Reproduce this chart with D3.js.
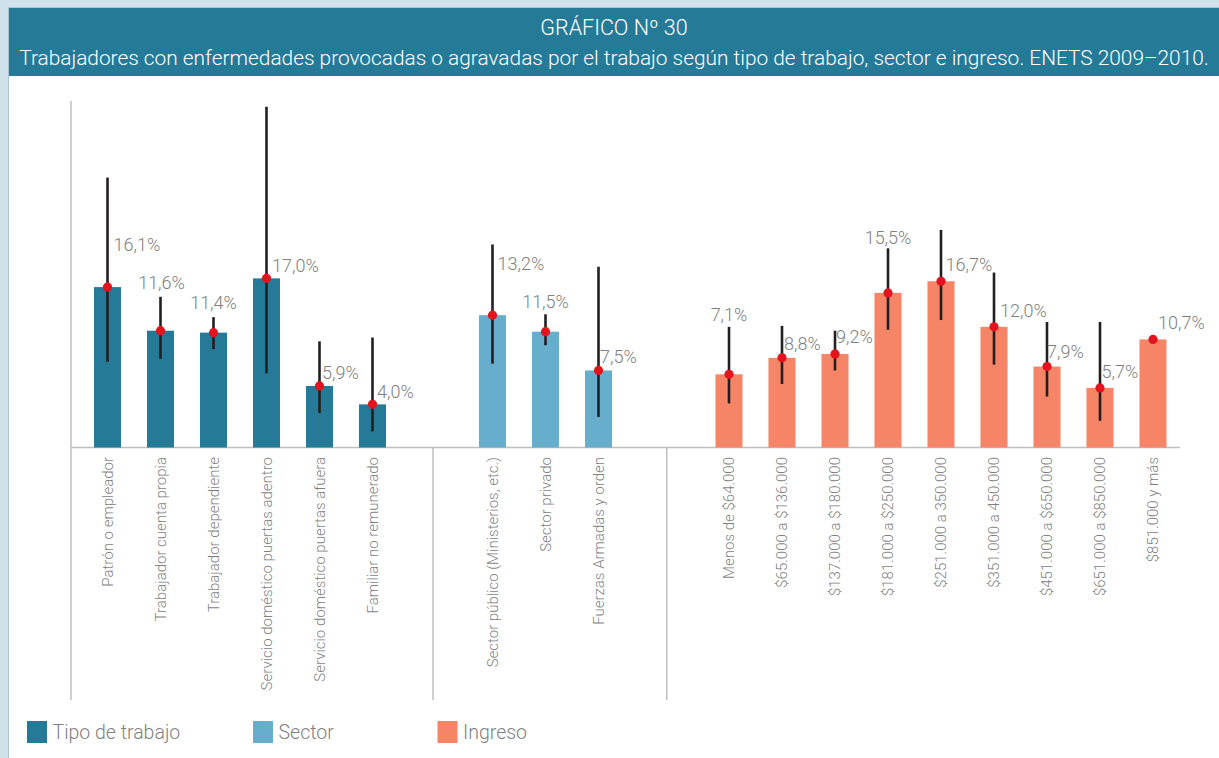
<!DOCTYPE html>
<html>
<head>
<meta charset="utf-8">
<script src="https://cdn.jsdelivr.net/npm/d3@7"></script>
<style>
  html, body { margin: 0; padding: 0; background: #d0e1eb; }
  svg { display: block; }
  text { font-family: Roboto, "Open Sans", "DejaVu Sans", sans-serif; }
</style>
</head>
<body>
<svg id="chart" width="1219" height="758"></svg>
<script>
// ---- Data -------------------------------------------------------------
const titleLine1 = "GRÁFICO Nº 30";
const titleLine2 = "Trabajadores con enfermedades provocadas o agravadas por el trabajo según tipo de trabajo, sector e ingreso. ENETS 2009–2010.";

const groupNames = ["Tipo de trabajo", "Sector", "Ingreso"];

const tipoCategories = [
  "Patrón o empleador",
  "Trabajador cuenta propia",
  "Trabajador dependiente",
  "Servicio doméstico puertas adentro",
  "Servicio doméstico puertas afuera",
  "Familiar no remunerado"
];
const tipoValues = [16.1, 11.6, 11.4, 17.0, 5.9, 4.0];
const tipoUpper  = [27.4, 15.1, 13.0, 34.7, 10.5, 10.9];
const tipoLower  = [8.4, 8.7, 9.7, 7.2, 3.1, 1.2];

const sectorCategories = [
  "Sector público (Ministerios, etc.)",
  "Sector privado",
  "Fuerzas Armadas y orden"
];
const sectorValues = [13.2, 11.5, 7.5];
const sectorUpper  = [20.5, 13.3, 18.2];
const sectorLower  = [8.2, 10.1, 2.7];

const ingresoCategories = [
  "Menos de $64.000",
  "$65.000 a $136.000",
  "$137.000 a $180.000",
  "$181.000 a $250.000",
  "$251.000 a 350.000",
  "$351.000 a 450.000",
  "$451.000 a $650.000",
  "$651.000 a $850.000",
  "$851.000 y más"
];
const ingresoValues = [7.1, 8.8, 9.2, 15.5, 16.7, 12.0, 7.9, 5.7, 10.7];
const ingresoUpper  = [12.0, 12.1, 11.6, 20.1, 22.0, 17.6, 12.5, 12.5, null];
const ingresoLower  = [4.1, 6.1, 7.5, 11.7, 12.7, 8.1, 4.8, 2.3, null];

// ---- Layout -----------------------------------------------------------
const W = 1219, H = 758;
const colors = ["#247a97", "#67aecd", "#f58566"];
const textGray = "#7f7f7f";
const axisGray = "#bfbfbf";

const yAxisX = 71, baseY = 447.5, topY = 101, bottomY = 700, axisEndX = 1180;

// label placement per bar: [anchor, dx, dy] relative to the point
const tipoLabelPos = [["start", 6, -36.5], ["middle", 1, -41.5], ["middle", 0, -24], ["start", 5.5, -6], ["start", 2.5, -7], ["start", 4.5, -6]];
const sectorLabelPos = [["start", 5, -45], ["middle", 0, -24], ["start", 1.5, -7]];
const ingresoLabelPos = [["middle", 0, -53], ["start", 2, -8], ["start", 1, -10.5], ["middle", 0, -49], ["start", 4.5, -10], ["start", 6, -10], ["start", 0, -9], ["start", 1.5, -10], ["start", 5, -10]];

const groups = [
  { name: groupNames[0], cats: tipoCategories, vals: tipoValues, hi: tipoUpper, lo: tipoLower, lab: tipoLabelPos, range: [81, 399], color: colors[0] },
  { name: groupNames[1], cats: sectorCategories, vals: sectorValues, hi: sectorUpper, lo: sectorLower, lab: sectorLabelPos, range: [466, 625], color: colors[1] },
  { name: groupNames[2], cats: ingresoCategories, vals: ingresoValues, hi: ingresoUpper, lo: ingresoLower, lab: ingresoLabelPos, range: [702.5, 1179.5], color: colors[2] }
];

const svg = d3.select("#chart");

// panel and title band
svg.append("rect").attr("x", 8.5).attr("y", 7.5).attr("width", W).attr("height", H)
  .attr("fill", "#ffffff").attr("stroke", "#a9c5d5").attr("stroke-width", 1);
svg.append("rect").attr("x", 9).attr("y", 8).attr("width", W - 9).attr("height", 68)
  .attr("fill", "#257a98");

svg.append("text").attr("x", 614).attr("y", 35).attr("text-anchor", "middle")
  .attr("fill", "#ffffff").style("font-size", "21.5px").style("font-weight", 300)
  .text(titleLine1);
const t2 = svg.append("text").attr("x", 614).attr("y", 65).attr("text-anchor", "middle")
  .attr("fill", "#ffffff").style("font-size", "22px").style("font-weight", 300)
  .text(titleLine2);
{
  // shrink the subtitle so it fits inside the band
  const w = t2.node().getComputedTextLength();
  const target = 1190;
  if (w > target) t2.style("font-size", (22 * target / w).toFixed(2) + "px");
}

// y scale shared by all groups
const y = d3.scaleLinear().domain([-0.45, 35.3]).range([baseY, topY]);

// axis lines
const axisG = svg.append("g").attr("stroke", axisGray).attr("stroke-width", 1.5).attr("fill", "none");
axisG.append("line").attr("x1", yAxisX).attr("x2", yAxisX).attr("y1", topY).attr("y2", bottomY);
axisG.append("line").attr("x1", yAxisX).attr("x2", axisEndX).attr("y1", baseY).attr("y2", baseY);
for (let i = 0; i < groups.length - 1; i++) {
  const xd = (groups[i].range[1] + groups[i + 1].range[0]) / 2 + (i === 1 ? 3 : 0.5);
  axisG.append("line").attr("x1", xd).attr("x2", xd).attr("y1", baseY).attr("y2", bottomY);
}

groups.forEach((g, gi) => {
  const x = d3.scaleBand().domain(g.cats).range(g.range).paddingInner(0.49).paddingOuter(0.245);
  const data = g.cats.map((c, i) => ({ c, v: g.vals[i], hi: g.hi[i], lo: g.lo[i], lab: g.lab[i] }));
  const cx = d => x(d.c) + x.bandwidth() / 2;

  const gg = svg.append("g");
  gg.selectAll("rect.bar").data(data).join("rect").attr("class", "bar")
    .attr("x", d => x(d.c)).attr("width", x.bandwidth())
    .attr("y", d => y(d.v)).attr("height", d => baseY - y(d.v))
    .attr("fill", g.color);

  gg.selectAll("line.err").data(data.filter(d => d.hi != null)).join("line").attr("class", "err")
    .attr("x1", cx).attr("x2", cx)
    .attr("y1", d => y(d.hi)).attr("y2", d => y(d.lo))
    .attr("stroke", "#231f20").attr("stroke-width", 2.6);

  gg.selectAll("circle").data(data).join("circle")
    .attr("cx", cx).attr("cy", d => y(d.v)).attr("r", 4.6).attr("fill", "#e5131d");

  gg.selectAll("text.val").data(data).join("text").attr("class", "val")
    .attr("x", d => cx(d) + d.lab[1]).attr("y", d => y(d.v) + d.lab[2])
    .attr("text-anchor", d => d.lab[0])
    .attr("fill", textGray).style("font-size", "18px").style("font-weight", 300)
    .text(d => d.v.toFixed(1).replace(".", ",") + "%");

  // category tick labels, rotated
  const axis = d3.axisBottom(x).tickSize(0).tickPadding(0);
  const ag = svg.append("g").attr("transform", `translate(0,${baseY})`).call(axis);
  ag.select(".domain").remove();
  ag.selectAll(".tick text")
    .attr("transform", "rotate(-90)")
    .attr("x", -9.5).attr("y", 0).attr("dy", "0.35em")
    .attr("text-anchor", "end")
    .attr("fill", textGray)
    .style("font-size", "15px").style("font-weight", 300)
    .style("font-family", "Roboto, 'Open Sans', sans-serif");
});

// legend
const legendX = [27, 253, 437.5];
const lg = svg.append("g");
groupNames.forEach((n, i) => {
  lg.append("rect").attr("x", legendX[i]).attr("y", 721).attr("width", 20).attr("height", 22).attr("fill", colors[i]);
  lg.append("text").attr("x", legendX[i] + 25.5).attr("y", 738.5).attr("fill", textGray)
    .style("font-size", "19.5px").style("font-weight", 300).text(n);
});
</script>
</body>
</html>
